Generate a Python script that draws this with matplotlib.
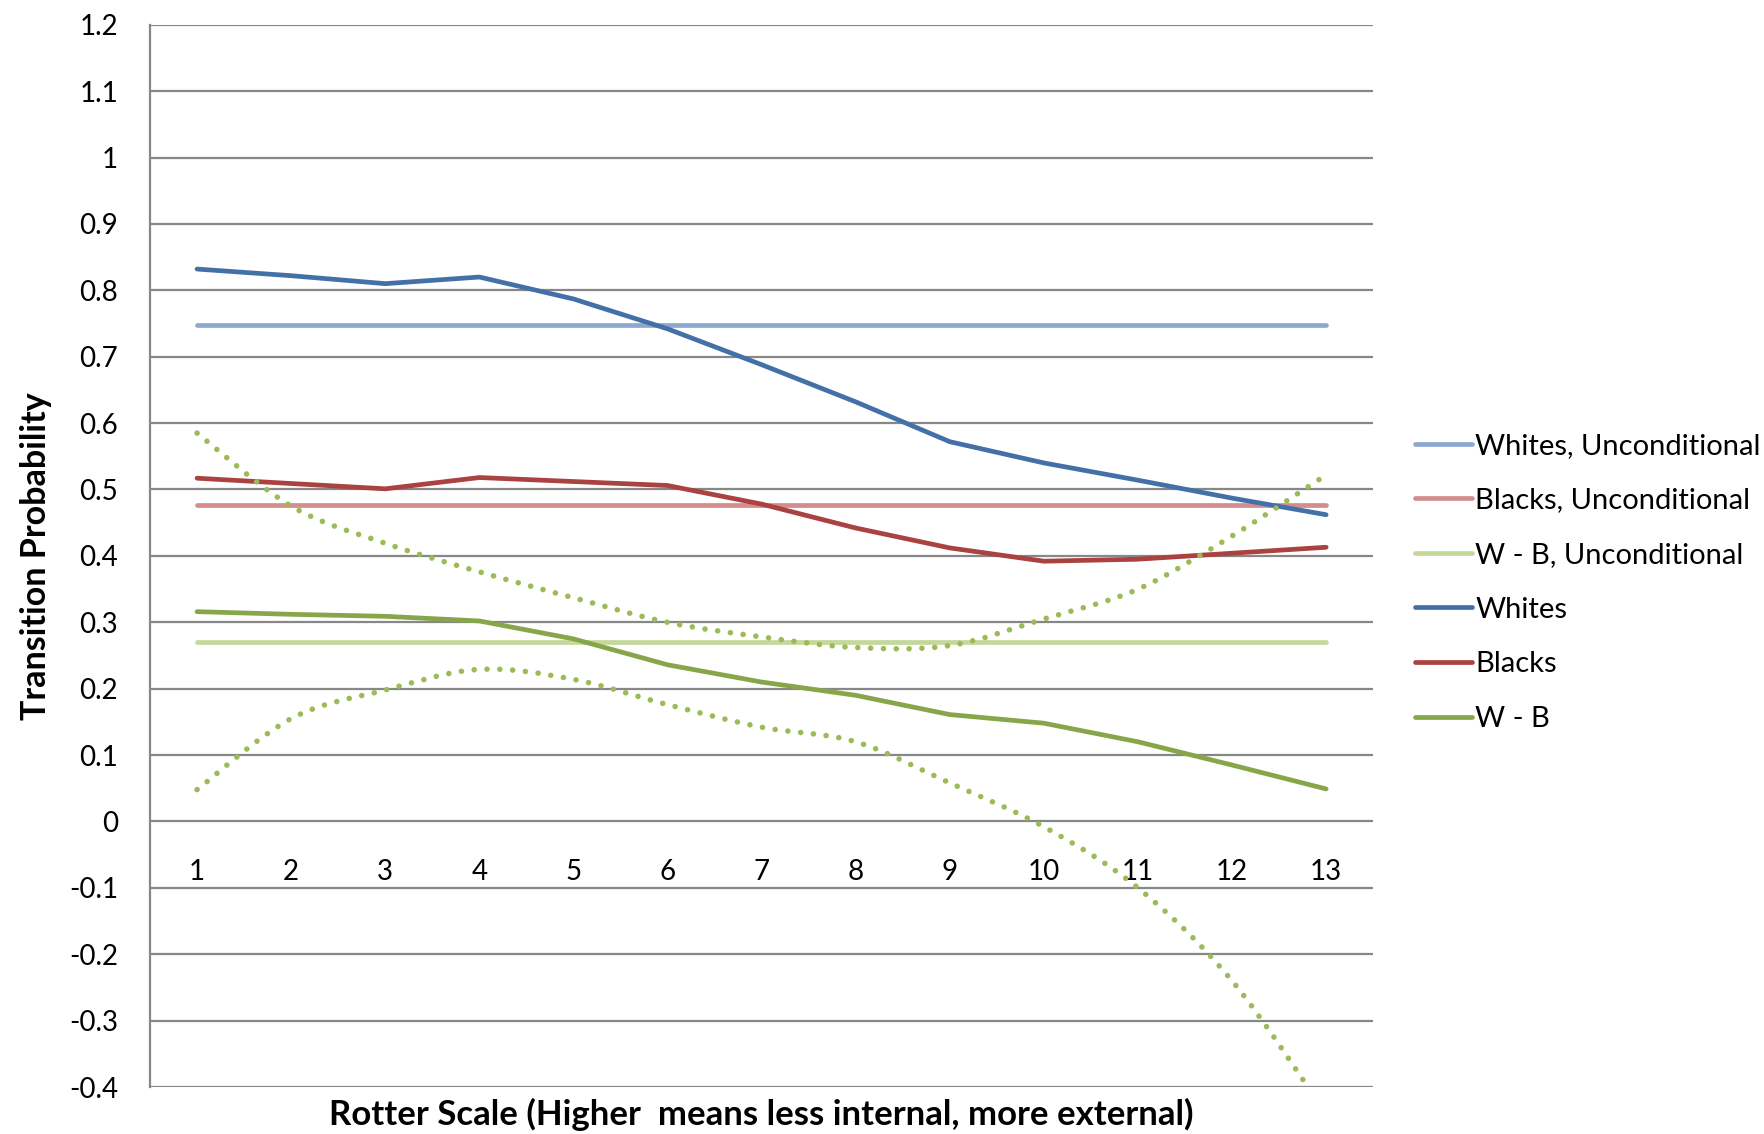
import matplotlib
matplotlib.use("Agg")
import matplotlib.pyplot as plt
from matplotlib.path import Path
from matplotlib.patches import PathPatch
import numpy as np

# ---- data ----
rotter = list(range(1, 14))
whites = [0.832, 0.822, 0.810, 0.820, 0.787, 0.742, 0.688, 0.632, 0.572, 0.540, 0.514, 0.487, 0.462]
blacks = [0.517, 0.509, 0.501, 0.518, 0.512, 0.506, 0.478, 0.442, 0.412, 0.392, 0.395, 0.404, 0.413]
w_minus_b = [0.316, 0.312, 0.309, 0.302, 0.275, 0.236, 0.210, 0.190, 0.161, 0.148, 0.120, 0.085, 0.049]
wb_upper = [0.585, 0.475, 0.419, 0.376, 0.337, 0.300, 0.278, 0.262, 0.265, 0.305, 0.350, 0.430, 0.522]
wb_lower = [0.048, 0.155, 0.198, 0.229, 0.214, 0.176, 0.142, 0.120, 0.058, -0.008, -0.100, -0.240, -0.440]
whites_uncond = 0.748
blacks_uncond = 0.477
wb_uncond = 0.270
yticks = [-0.4, -0.3, -0.2, -0.1, 0, 0.1, 0.2, 0.3, 0.4, 0.5, 0.6, 0.7, 0.8, 0.9, 1, 1.1, 1.2]

plt.rcParams['font.family'] = ['Lato', 'DejaVu Sans']
plt.rcParams['axes.unicode_minus'] = False

fig = plt.figure(figsize=(17.65, 11.34), dpi=100)
ax = fig.add_axes([0.085, 0.0414, 0.693, 0.9368])

LW = 3.4
c_w = '#4470A8'
c_wu = '#8CA8CF'
c_b = '#A94240'
c_bu = '#D38D8D'
c_wb = '#87A64A'
c_wbu = '#C4D89C'
c_dot = '#9BBB59'

x = np.array(rotter, dtype=float)

def smooth_path(xs, ys):
    pts = np.column_stack([xs, ys])
    n = len(pts)
    verts = [pts[0]]
    codes = [Path.MOVETO]
    for i in range(n - 1):
        p0 = pts[i - 1] if i > 0 else pts[i]
        p1 = pts[i]
        p2 = pts[i + 1]
        p3 = pts[i + 2] if i + 2 < n else pts[i + 1]
        c1 = p1 + (p2 - p0) / 6.0
        c2 = p2 - (p3 - p1) / 6.0
        verts += [c1, c2, p2]
        codes += [Path.CURVE4] * 3
    return Path(verts, codes)

# unconditional lines
ax.plot([x[0], x[-1]], [whites_uncond] * 2, color=c_wu, lw=LW, solid_capstyle='round', label='Whites, Unconditional', zorder=3)
ax.plot([x[0], x[-1]], [blacks_uncond] * 2, color=c_bu, lw=LW, solid_capstyle='round', label='Blacks, Unconditional', zorder=3)
ax.plot([x[0], x[-1]], [wb_uncond] * 2, color=c_wbu, lw=LW, solid_capstyle='round', label='W - B, Unconditional', zorder=3)
ax.plot(x, whites, color=c_w, lw=LW, solid_capstyle='round', solid_joinstyle='round', label='Whites', zorder=4)
ax.plot(x, blacks, color=c_b, lw=LW, solid_capstyle='round', solid_joinstyle='round', label='Blacks', zorder=4)
ax.plot(x, w_minus_b, color=c_wb, lw=LW, solid_capstyle='round', solid_joinstyle='round', label='W - B', zorder=4)

for band in (wb_upper, wb_lower):
    patch = PathPatch(smooth_path(x, np.array(band)), facecolor='none', edgecolor=c_dot,
                      lw=4.0, linestyle=(0, (0.01, 2.3)), capstyle='round', zorder=5)
    ax.add_patch(patch)

ax.set_xlim(0.5, 13.5)
ax.set_ylim(-0.4, 1.2)
ax.set_yticks(yticks)
ax.set_yticklabels(['%g' % v for v in yticks])
ax.yaxis.grid(True, color='#878787', lw=1.6)
ax.set_axisbelow(True)
ax.set_xticks(x)
ax.set_xticklabels([str(r) for r in rotter])

for s in ('top', 'right'):
    ax.spines[s].set_visible(False)
ax.spines['left'].set_color('#878787')
ax.spines['left'].set_linewidth(1.6)
ax.spines['bottom'].set_position(('data', 0))
ax.spines['bottom'].set_visible(False)
ax.tick_params(axis='x', length=0, pad=27, labelsize=20)
ax.tick_params(axis='y', length=0, pad=23, labelsize=20)

ax.set_ylabel('Transition Probability', fontsize=24.5, fontweight='bold', labelpad=12)
fig.text(0.4315, 0.017, 'Rotter Scale (Higher  means less internal, more external)',
         fontsize=25, fontweight='bold', ha='center', va='center')

handles, labels = ax.get_legend_handles_labels()
fig.legend(handles, labels, loc='center left', bbox_to_anchor=(0.795, 0.4865),
           frameon=False, fontsize=21, handlelength=1.95, handletextpad=0.12,
           labelspacing=0.98, borderaxespad=0)

fig.savefig('out.png', dpi=100)
